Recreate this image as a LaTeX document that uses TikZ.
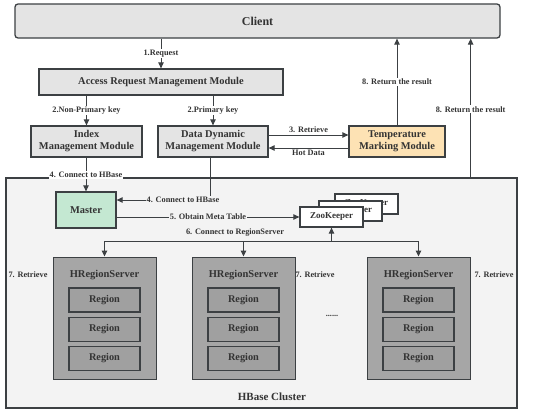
\documentclass[tikz,border=0pt]{standalone}
\usepackage{fontspec}
\setmainfont{Liberation Serif}
\usetikzlibrary{arrows.meta,calc}
\definecolor{txt}{HTML}{333333}
\definecolor{ln}{HTML}{3C4043}
\definecolor{boxg}{HTML}{E4E4E4}
\definecolor{clbg}{HTML}{F3F3F3}
\definecolor{orng}{HTML}{FDE2B4}
\definecolor{grn}{HTML}{C4E8D2}
\definecolor{hrs}{HTML}{A6A6A6}
\definecolor{reg}{HTML}{A0A0A0}
\tikzset{
  box/.style={draw=ln, line width=1.3pt, fill=boxg, text=txt, font=\bfseries\fontsize{10.4}{12}\selectfont, align=center, inner sep=0pt},
  arr/.style={draw=ln, line width=1pt, -{Triangle[length=6pt,width=5.5pt]}},
  lbl/.style={fill=white, text=txt, font=\bfseries\fontsize{8.3}{10}\selectfont, inner sep=1pt},
  lblc/.style={fill=clbg, text=txt, font=\bfseries\fontsize{8.3}{10}\selectfont, inner sep=1pt},
  plain/.style={text=txt, font=\bfseries\fontsize{8.3}{10}\selectfont, inner sep=1pt},
  regbox/.style={draw=ln, line width=1.3pt, fill=reg, text=txt, font=\bfseries\fontsize{10.3}{12}\selectfont, minimum width=71pt, minimum height=24pt, inner sep=0pt},
  hrsbox/.style={draw=ln, line width=1pt, fill=hrs, minimum width=103pt, minimum height=122pt, inner sep=0pt},
  zkbox/.style={draw=ln, line width=1.3pt, fill=white, text=txt, font=\bfseries\fontsize{9}{10}\selectfont, minimum width=63pt, minimum height=20pt, inner sep=0pt}
}
\begin{document}
\begin{tikzpicture}[x=1pt,y=-1pt]
\useasboundingbox (0,0) rectangle (550,415);
\fill[white] (0,0) rectangle (550,415);
% cluster
\node[draw=ln, line width=1.3pt, fill=clbg, minimum width=511pt, minimum height=230pt, inner sep=0pt] (cluster) at (261.5,293) {};
\node[text=txt, font=\bfseries\fontsize{11}{13}\selectfont] (hbc) at (272,397) {HBase Cluster};
% top boxes
\node[box, rounded corners=3pt, minimum width=485pt, minimum height=34pt, font=\bfseries\fontsize{12}{14}\selectfont] (client) at (257.5,21) {Client};
\node[box, minimum width=244pt, minimum height=26pt] (access) at (161,82) {Access Request Management Module};
\node[box, minimum width=111pt, minimum height=31pt] (index) at (86.5,141.5) {Index\\Management Module};
\node[box, minimum width=110pt, minimum height=31pt] (data) at (213,141.5) {Data Dynamic\\Management Module};
\node[box, fill=orng, minimum width=96pt, minimum height=31pt] (temp) at (397,141.5) {Temperature\\Marking Module};
% master, zookeeper
\node[box, fill=grn, minimum width=60pt, minimum height=36pt] (master) at (86,210) {Master};
\node[zkbox] (zk3) at (366.5,204) {ZooKeeper};
\node[zkbox] (zk2) at (350.5,211) {ZooKeeper};
\node[zkbox] (zk) at (331.5,217) {ZooKeeper};
% region servers
\foreach \n/\x in {1/104.5,2/243.5,3/418.5}{
  \node[hrsbox] (hrs\n) at (\x,318) {};
  \node[text=txt, font=\bfseries\fontsize{10.5}{12}\selectfont] (hrst\n) at (\x,275) {HRegionServer};
  \node[regbox] (r\n a) at (\x,300) {Region};
  \node[regbox] (r\n b) at (\x,329.5) {Region};
  \node[regbox] (r\n c) at (\x,358.5) {Region};
}
\node[plain] (dots) at (332,316) {......};
\node[plain] (ret1) at (28,275) {7. Retrieve};
\node[plain] (ret2) at (315,275) {7. Retrieve};
\node[plain] (ret3) at (494,275) {7. Retrieve};
% connectors
\draw[arr] (access.north |- client.south) -- node[lbl]{1.Request} (access.north);
\draw[arr] (index.north |- access.south) -- node[lbl]{2.Non-Primary key} (index.north);
\draw[arr] (data.north |- access.south) -- node[lbl]{2.Primary key} (data.north);
\draw[arr] ($(data.east)+(0,-6.5)$) -- node[plain, above=1pt]{3. Retrieve} ($(temp.west)+(0,-6.5)$);
\draw[arr] ($(temp.west)+(0,6.5)$) -- node[plain, below=1pt]{Hot Data} ($(data.east)+(0,6.5)$);
\draw[arr] (temp.north) -- node[lbl, pos=0.5]{8. Return the result} (client.south -| temp.north);
\coordinate (cr) at ($(cluster.north east)+(-47,0)$);
\draw[arr] (cr) -- node[lbl, pos=0.49]{8. Return the result} (client.south -| cr);
\draw[arr] (index.south -| master.north) -- node[lbl, pos=0.51]{4. Connect to HBase} (master.north);
\draw[arr] ($(data.south)+(-3,0)$) |- ($(master.east)+(0,-10)$);
\node[lblc] (c4) at (183,200) {4. Connect to HBase};
\draw[arr] ($(master.east)+(0,7)$) -- node[lblc, pos=0.5]{5. Obtain Meta Table} (zk.west |- 0,217);
\coordinate (j) at (331.5,241);
\draw[arr] (j) -- (zk.south);
\draw[arr] (j) -| (hrs1.north);
\draw[arr] (j) -| (hrs3.north);
\draw[arr] (hrs2.north |- j) -- (hrs2.north);
\node[plain] (c6) at (235,233) {6. Connect to RegionServer};
\end{tikzpicture}
\end{document}
